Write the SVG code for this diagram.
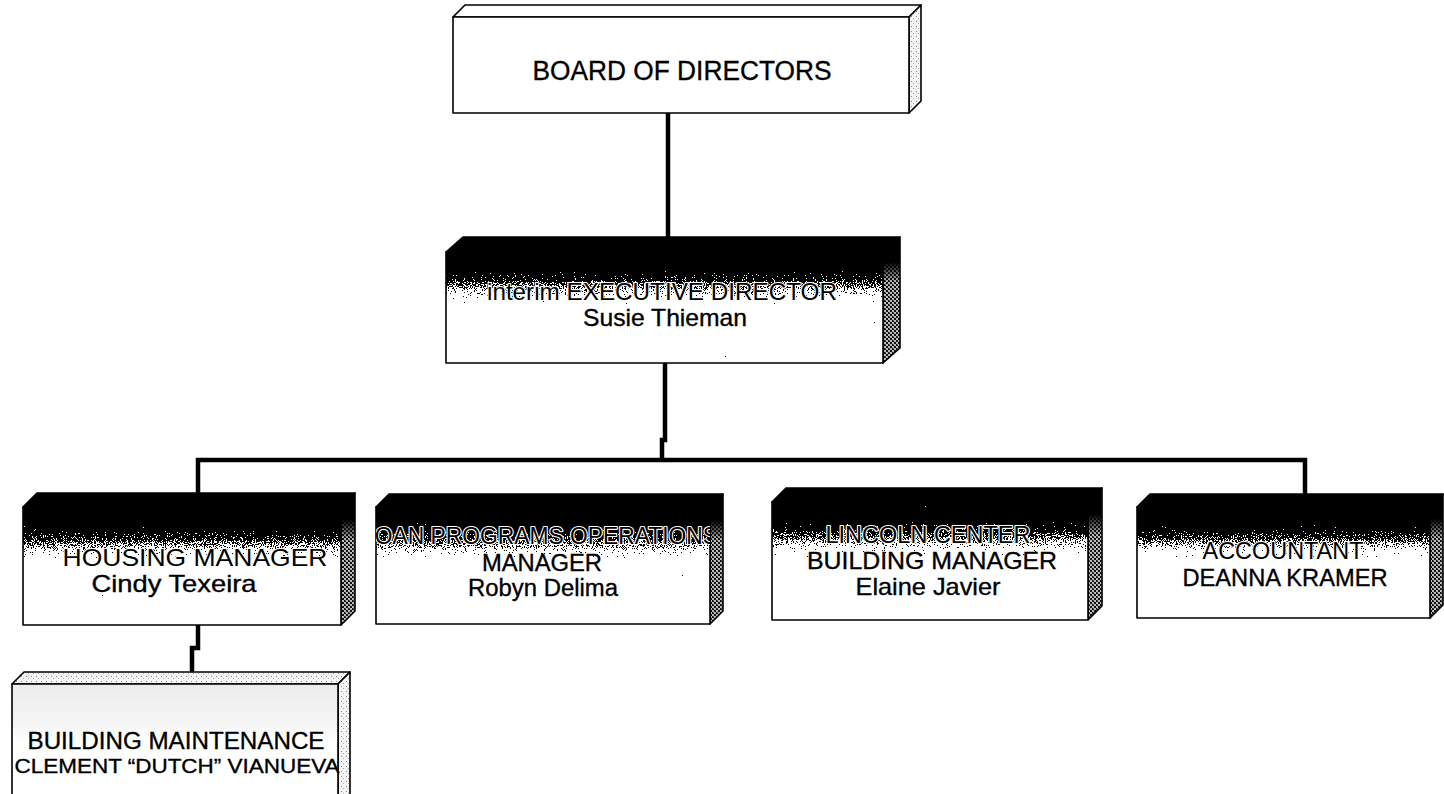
<svg xmlns="http://www.w3.org/2000/svg" width="1444" height="794" viewBox="0 0 1444 794">
<defs>
<style>
text{font-family:"Liberation Sans",Arial,sans-serif;fill:#000;text-anchor:middle;stroke:#000;stroke-width:0.35}
text.h{stroke:#fff;stroke-width:2.2;paint-order:stroke;stroke-linejoin:round}
.o{stroke:#000;stroke-width:1.6;stroke-linejoin:round}
.wfront{fill:#fff}
.dfront{fill:url(#gFront)}
.dtop{fill:#000}
.dside{fill:url(#pDark)}
.lside{fill:url(#pLight)}
.ltop{fill:url(#pLight)}
.conn{fill:none;stroke:#000;stroke-width:4.5;stroke-linejoin:miter}
.t25{font-size:24px}
.t24{font-size:23px}
.t22{font-size:21px}
</style>
<linearGradient id="gFront" x1="0" y1="0" x2="0" y2="1">
<stop offset="0" stop-color="#000"/>
<stop offset="0.13" stop-color="#000"/>
<stop offset="0.26" stop-color="#555"/>
<stop offset="0.40" stop-color="#c8c8c8"/>
<stop offset="0.5" stop-color="#fff"/>
<stop offset="1" stop-color="#fff"/>
</linearGradient>
<linearGradient id="gSideTop" x1="0" y1="0" x2="0" y2="1">
<stop offset="0" stop-color="#000" stop-opacity="1"/>
<stop offset="0.2" stop-color="#000" stop-opacity="1"/>
<stop offset="0.36" stop-color="#000" stop-opacity="0"/>
</linearGradient>
<linearGradient id="gLightFront" x1="0" y1="0" x2="0" y2="1">
<stop offset="0" stop-color="#ececec"/>
<stop offset="0.35" stop-color="#f5f5f5"/>
<stop offset="0.5" stop-color="#fff"/>
</linearGradient>
<pattern id="pDark" width="4" height="4" patternUnits="userSpaceOnUse">
<rect width="4" height="4" fill="#bbb"/>
<rect width="2" height="2" fill="#111"/>
<rect x="2" y="2" width="2" height="2" fill="#111"/>
<rect x="1" y="0" width="1" height="1" fill="#555"/>
</pattern>
<pattern id="pLight" width="5" height="5" patternUnits="userSpaceOnUse">
<rect width="5" height="5" fill="#f4f4f4"/>
<rect x="1" y="1" width="1" height="1" fill="#888"/>
<rect x="3" y="3" width="1" height="1" fill="#aaa"/>
</pattern>
<filter id="dither" x="0" y="0" width="1" height="1" color-interpolation-filters="sRGB">
<feTurbulence type="fractalNoise" baseFrequency="0.9" numOctaves="2" seed="4" result="n"/>
<feColorMatrix in="n" type="matrix" values="1 0 0 0 0  1 0 0 0 0  1 0 0 0 0  0 0 0 0 1" result="ng"/>
<feComposite in="SourceGraphic" in2="ng" operator="arithmetic" k1="0" k2="1" k3="1.3" k4="-0.65" result="s"/>
<feComponentTransfer in="s">
<feFuncR type="discrete" tableValues="0 1"/>
<feFuncG type="discrete" tableValues="0 1"/>
<feFuncB type="discrete" tableValues="0 1"/>
</feComponentTransfer>
</filter>
<clipPath id="clipLoan"><rect x="376" y="507" width="334" height="117"/></clipPath>
<clipPath id="clipLinc"><rect x="772" y="502" width="316" height="118"/></clipPath>
</defs>
<rect width="1444" height="794" fill="#fff"/>

<g id="connectors">
<path class="conn" d="M668 113 V237"/>
<path class="conn" d="M665 363 V440 H662 V460"/>
<path class="conn" d="M196 460 H1307"/>
<path class="conn" d="M198 458 V494"/>
<path class="conn" d="M1305 458 V494"/>
<path class="conn" d="M198 625 V648 H192 V673"/>
</g>

<g id="board">
<polygon class="o" fill="#fff" points="453,17 465,5 921,5 909,17"/>
<polygon class="o lside" points="909,17 921,5 921,101 909,113"/>
<rect class="o wfront" x="453" y="17" width="456" height="96"/>
<text x="682" y="80" font-size="27" textLength="299" lengthAdjust="spacingAndGlyphs">BOARD OF DIRECTORS</text>
</g>

<g id="exec">
<polygon class="o dtop" points="446,252 463,237 900,237 883,252"/>
<polygon class="o dside" points="883,252 900,237 900,348 883,363"/>
<polygon fill="url(#gSideTop)" points="883,252 900,237 900,348 883,363"/>
<rect class="dfront" filter="url(#dither)" x="446" y="252" width="437" height="111"/>
<rect class="o" fill="none" x="446" y="252" width="437" height="111"/>
<text class="t25 h" x="662" y="300" textLength="350" lengthAdjust="spacingAndGlyphs">interim EXECUTIVE DIRECTOR</text>
<text class="t25" x="665" y="326" textLength="164" lengthAdjust="spacingAndGlyphs">Susie Thieman</text>
</g>

<g id="housing">
<polygon class="o dtop" points="23,507 37,493 355,493 341,507"/>
<polygon class="o dside" points="341,507 355,493 355,611 341,625"/>
<polygon fill="url(#gSideTop)" points="341,507 355,493 355,611 341,625"/>
<rect class="dfront" filter="url(#dither)" x="23" y="507" width="318" height="118"/>
<rect class="o" fill="none" x="23" y="507" width="318" height="118"/>
<text class="t25 h" x="195" y="566" textLength="265" lengthAdjust="spacingAndGlyphs">HOUSING MANAGER</text>
<text class="t25" x="174" y="592" textLength="165" lengthAdjust="spacingAndGlyphs">Cindy Texeira</text>
</g>

<g id="loan">
<polygon class="o dtop" points="376,507 389,494 723,494 710,507"/>
<polygon class="o dside" points="710,507 723,494 723,611 710,624"/>
<polygon fill="url(#gSideTop)" points="710,507 723,494 723,611 710,624"/>
<rect class="dfront" filter="url(#dither)" x="376" y="507" width="334" height="117"/>
<rect class="o" fill="none" x="376" y="507" width="334" height="117"/>
<text class="t24 h" x="540" y="544" clip-path="url(#clipLoan)" textLength="356" lengthAdjust="spacingAndGlyphs">LOAN PROGRAMS OPERATIONS</text>
<text class="t24" x="542" y="571" textLength="120" lengthAdjust="spacingAndGlyphs">MANAGER</text>
<text class="t24" x="543" y="596" textLength="150" lengthAdjust="spacingAndGlyphs">Robyn Delima</text>
</g>

<g id="lincoln">
<polygon class="o dtop" points="772,502 786,488 1102,488 1088,502"/>
<polygon class="o dside" points="1088,502 1102,488 1102,606 1088,620"/>
<polygon fill="url(#gSideTop)" points="1088,502 1102,488 1102,606 1088,620"/>
<rect class="dfront" filter="url(#dither)" x="772" y="502" width="316" height="118"/>
<rect class="o" fill="none" x="772" y="502" width="316" height="118"/>
<text class="t24 h" x="928" y="543" clip-path="url(#clipLinc)" textLength="205" lengthAdjust="spacingAndGlyphs">LINCOLN CENTER</text>
<text class="t25" x="932" y="569" textLength="250" lengthAdjust="spacingAndGlyphs">BUILDING MANAGER</text>
<text class="t25" x="928" y="595" textLength="145" lengthAdjust="spacingAndGlyphs">Elaine Javier</text>
</g>

<g id="accountant">
<polygon class="o dtop" points="1137,507 1150,494 1443,494 1430,507"/>
<polygon class="o dside" points="1430,507 1443,494 1443,605 1430,618"/>
<polygon fill="url(#gSideTop)" points="1430,507 1443,494 1443,605 1430,618"/>
<rect class="dfront" filter="url(#dither)" x="1137" y="507" width="293" height="111"/>
<rect class="o" fill="none" x="1137" y="507" width="293" height="111"/>
<text class="t25 h" x="1283" y="559" textLength="161" lengthAdjust="spacingAndGlyphs">ACCOUNTANT</text>
<text class="t25" x="1285" y="586" textLength="205" lengthAdjust="spacingAndGlyphs">DEANNA KRAMER</text>
</g>

<g id="maintenance">
<polygon class="o ltop" points="12,684 24,672 350,672 338,684"/>
<polygon class="o lside" points="338,684 350,672 350,800 338,800"/>
<rect fill="url(#gLightFront)" x="12" y="684" width="326" height="116"/>
<rect class="o" fill="none" x="12" y="684" width="326" height="116"/>
<text class="t24" x="176" y="749" textLength="297" lengthAdjust="spacingAndGlyphs">BUILDING MAINTENANCE</text>
<text class="t22" x="177" y="773" textLength="325" lengthAdjust="spacingAndGlyphs">CLEMENT “DUTCH” VIANUEVA</text>
</g>
</svg>
